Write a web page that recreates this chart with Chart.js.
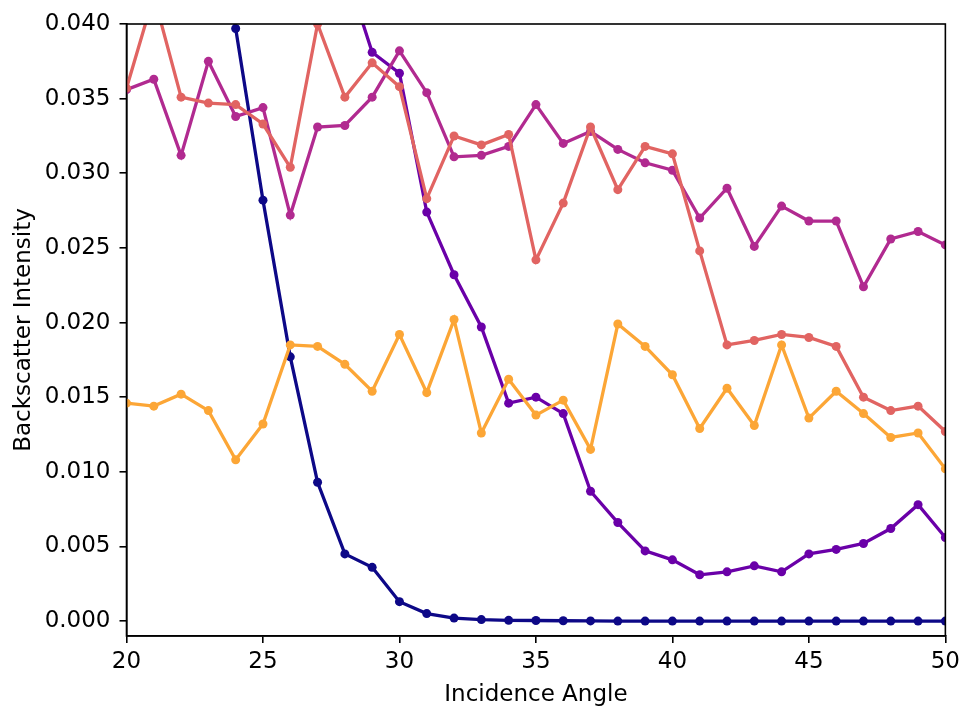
<!DOCTYPE html>
<html lang="en">
<head>
    <meta charset="UTF-8">
    <title>Backscatter Intensity</title>
    <style>
      html, body { margin: 0; padding: 0; background: white; }
      #wrap { width: 965px; height: 709px; }
    </style>
</head>
<body>
    <div id="wrap"><canvas id="backscatterChart" width="965" height="709"></canvas></div>

    <script src="https://cdn.jsdelivr.net/npm/chart.js"></script>
    <script>
        // Data
        const angles = [20, 21, 22, 23, 24, 25, 26, 27, 28, 29, 30, 31, 32, 33, 34, 35,
                        36, 37, 38, 39, 40, 41, 42, 43, 44, 45, 46, 47, 48, 49, 50];

        const seriesA = [0.095, 0.080, 0.066, 0.052, 0.0397, 0.0282, 0.0177, 0.0093, 0.0045, 0.0036,
                         0.0013, 0.0005, 0.0002, 0.0001, 0.00005, 0.00004, 0.00002, 0.00001, 0, 0,
                         0, 0, 0, 0, 0, 0, 0, 0, 0, 0, 0];
        const seriesB = [0.075, 0.070, 0.066, 0.062, 0.058, 0.054, 0.050, 0.047, 0.0438, 0.0381,
                         0.0367, 0.0274, 0.0232, 0.0197, 0.0146, 0.0150, 0.0139, 0.0087, 0.0066, 0.0047,
                         0.0041, 0.0031, 0.0033, 0.0037, 0.0033, 0.0045, 0.0048, 0.0052, 0.0062, 0.0078, 0.0056];
        const seriesC = [0.0356, 0.0363, 0.0312, 0.0375, 0.0338, 0.0344, 0.0272, 0.0331, 0.0332, 0.0351,
                         0.0382, 0.0354, 0.0311, 0.0312, 0.0318, 0.0346, 0.0320, 0.0328, 0.0316, 0.0307,
                         0.0302, 0.0270, 0.0290, 0.0251, 0.0278, 0.0268, 0.0268, 0.0224, 0.0256, 0.0261, 0.0252];
        const seriesD = [0.0357, 0.0419, 0.0351, 0.0347, 0.0346, 0.0333, 0.0304, 0.0400, 0.0351, 0.0374,
                         0.0358, 0.0283, 0.0325, 0.0319, 0.0326, 0.0242, 0.0280, 0.0331, 0.0289, 0.0318,
                         0.0313, 0.0248, 0.0185, 0.0188, 0.0192, 0.0190, 0.0184, 0.0150, 0.0141, 0.0144, 0.0127];
        const seriesE = [0.0146, 0.0144, 0.0152, 0.0141, 0.0108, 0.0132, 0.0185, 0.0184, 0.0172, 0.0154,
                         0.0192, 0.0153, 0.0202, 0.0126, 0.0162, 0.0138, 0.0148, 0.0115, 0.0199, 0.0184,
                         0.0165, 0.0129, 0.0156, 0.0131, 0.0185, 0.0136, 0.0154, 0.0139, 0.0123, 0.0126, 0.0102];

        const xTicks = [20, 25, 30, 35, 40, 45, 50];
        const yTicks = [0, 0.005, 0.010, 0.015, 0.020, 0.025, 0.030, 0.035, 0.040];

        const colors = ['#0d0887', '#6a00a8', '#b12a90', '#e16462', '#fca636'];
        const allSeries = [seriesA, seriesB, seriesC, seriesD, seriesE];

        const FONT = 'DejaVu Sans';

        const datasets = allSeries.map((vals, i) => ({
            data: vals.map((v, k) => ({ x: angles[k], y: v })),
            borderColor: colors[i],
            backgroundColor: colors[i],
            borderWidth: 3.3,
            pointRadius: 4.5,
            pointBorderWidth: 0,
            pointBackgroundColor: colors[i],
            tension: 0,
            clip: 0,
            order: allSeries.length - i
        }));

        // top / right frame like matplotlib
        const framePlugin = {
            id: 'frame',
            afterDraw(chart) {
                const a = chart.chartArea;
                const c = chart.ctx;
                c.save();
                c.strokeStyle = 'black';
                c.lineWidth = 1.6;
                c.strokeRect(a.left, a.top, a.right - a.left, a.bottom - a.top);
                c.restore();
            }
        };

        const ctx = document.getElementById('backscatterChart').getContext('2d');

        const backscatterChart = new Chart(ctx, {
            type: 'line',
            data: { datasets: datasets },
            plugins: [framePlugin],
            options: {
                responsive: false,
                animation: false,
                layout: { padding: { top: 24, right: 18, left: 0, bottom: 0 } },
                plugins: {
                    legend: { display: false },
                    tooltip: { enabled: false }
                },
                scales: {
                    x: {
                        type: 'linear',
                        min: 20,
                        max: 50,
                        afterFit: s => { s.height = 73; },
                        afterBuildTicks: s => { s.ticks = xTicks.map(v => ({ value: v })); },
                        grid: { drawOnChartArea: false, drawTicks: true, tickLength: 7, color: 'black', lineWidth: 1.6 },
                        border: { display: true, color: 'black', width: 1.6 },
                        ticks: { color: 'black', padding: 5, maxRotation: 0, font: { family: FONT, size: 23 } },
                        title: {
                            display: true,
                            text: 'Incidence Angle',
                            color: 'black',
                            font: { family: FONT, size: 23 },
                            padding: { top: 0, bottom: 0 }
                        }
                    },
                    y: {
                        type: 'linear',
                        min: -0.001,
                        max: 0.040,
                        afterFit: s => { s.width = 126.5; },
                        afterBuildTicks: s => { s.ticks = yTicks.map(v => ({ value: v })); },
                        grid: { drawOnChartArea: false, drawTicks: true, tickLength: 7, color: 'black', lineWidth: 1.6 },
                        border: { display: true, color: 'black', width: 1.6 },
                        ticks: {
                            color: 'black',
                            padding: 9,
                            font: { family: FONT, size: 23 },
                            callback: v => v.toFixed(3)
                        },
                        title: {
                            display: true,
                            text: 'Backscatter Intensity',
                            color: 'black',
                            font: { family: FONT, size: 23 },
                            padding: { top: 10, bottom: 0 }
                        }
                    }
                }
            }
        });
    </script>
</body>
</html>
